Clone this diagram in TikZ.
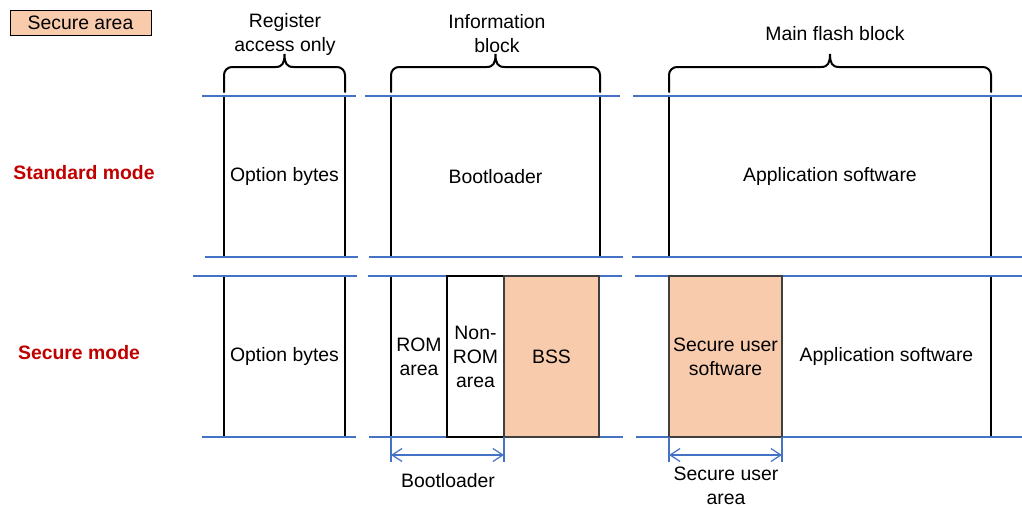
\documentclass[tikz,border=0pt]{standalone}
\usepackage{fontspec}
\setmainfont{Liberation Sans}
\usepackage{xcolor}
\usepackage{tikz}
\usetikzlibrary{arrows.meta}
\definecolor{secureFill}{HTML}{F8CBAD}
\definecolor{secureEdge}{HTML}{3F3F3F}
\definecolor{lineBlue}{HTML}{4472C4}
\definecolor{modeRed}{HTML}{C00000}

% curly brace over a block: left x, right x, tip x
\newcommand{\topbrace}[3]{%
    \draw[bracepen, rounded corners=8pt] (#1,92) -- (#1,67) -- (#3-9,67);
    \draw[bracepen, rounded corners=8pt] (#2,92) -- (#2,67) -- (#3+9,67);
    \draw[bracepen] (#3-9,67) .. controls (#3-2,67) and (#3,63) .. (#3,54)
        .. controls (#3,63) and (#3+2,67) .. (#3+9,67);
}

\begin{document}
\begin{tikzpicture}[x=1pt, y=-1pt, font=\fontsize{19.4}{24}\selectfont,
    cell/.style={draw=black, line width=1.3pt, inner sep=0pt, outer sep=0pt,
        anchor=north west, align=center, minimum height=161},
    securecell/.style={cell, fill=secureFill, draw=secureEdge},
    rowline/.style={lineBlue, line width=1.6pt},
    dimline/.style={lineBlue, line width=1.2pt},
    dimarrow/.style={lineBlue, line width=1.2pt,
        {Straight Barb[length=10pt, width=13pt]}-{Straight Barb[length=10pt, width=13pt]}},
    modelabel/.style={text=modeRed, font=\fontsize{19.4}{24}\selectfont\bfseries},
    bracepen/.style={line width=2pt, line cap=round}]
    \useasboundingbox (0,0) rectangle (1022,509);

    % legend
    \node[securecell, draw=black, line width=1pt, minimum width=141, minimum height=25]
        (legend) at (10,10) {Secure area};

    % column headings
    \node[align=center] (reghead) at (285,34) {Register\\access only};
    \node[align=center] (infohead) at (497,34) {Information\\block};
    \node (mainhead) at (835,34) {Main flash block};
    \topbrace{224}{345}{284.5}
    \topbrace{391}{600}{495.5}
    \topbrace{669}{991}{830}

    % mode labels
    \node[modelabel] (stdmode) at (84,173) {Standard mode};
    \node[modelabel] (secmode) at (79,353) {Secure mode};

    % standard mode row
    \node[cell, minimum width=121] (optstd) at (224,96) {Option bytes};
    \node[cell, minimum width=209] (bootstd) at (391,96) {Bootloader};
    \node[cell, minimum width=322] (appstd) at (669,96) {Application software};

    % secure mode row
    \node[cell, minimum width=121] (optsec) at (224,276) {Option bytes};
    \node[cell, minimum width=56] (rom) at (391,276) {ROM\\area};
    \node[cell, minimum width=209] (appsec) at (782,276) {Application software};

    % row borders
    \foreach \y/\a/\b/\c/\d/\e in {96/202/356/365/620/633, 257/205/358/369/623/632,
                                   276/193/357/368/622/635, 437/202/356/369/623/636} {
        \draw[rowline] (\a,\y) -- (\b,\y);
        \draw[rowline] (\c,\y) -- (\d,\y);
        \draw[rowline] (\e,\y) -- (1022,\y);
    }

    \node[cell, minimum width=57] (nonrom) at (447,276) {Non-\\ROM\\area};
    \node[securecell, minimum width=95] (bss) at (504,276) {BSS};
    \node[securecell, minimum width=113] (suser) at (669,276) {Secure user\\software};

    % extents below the secure row
    \draw[dimline] (rom.south west) -- ++(0,25);
    \draw[dimline] (bss.south west) -- ++(0,25);
    \draw[dimarrow] ([yshift=-18pt]rom.south west) -- ([yshift=-18pt]bss.south west);
    \node (bootdim) at (448,481) {Bootloader};

    \draw[dimline] (suser.south west) -- ++(0,25);
    \draw[dimline] (suser.south east) -- ++(0,25);
    \draw[dimarrow] ([yshift=-18pt]suser.south west) -- ([yshift=-18pt]suser.south east);
    \node[align=center, inner ysep=1pt] (suserdim) at (726,486) {Secure user\\area};
\end{tikzpicture}
\end{document}
